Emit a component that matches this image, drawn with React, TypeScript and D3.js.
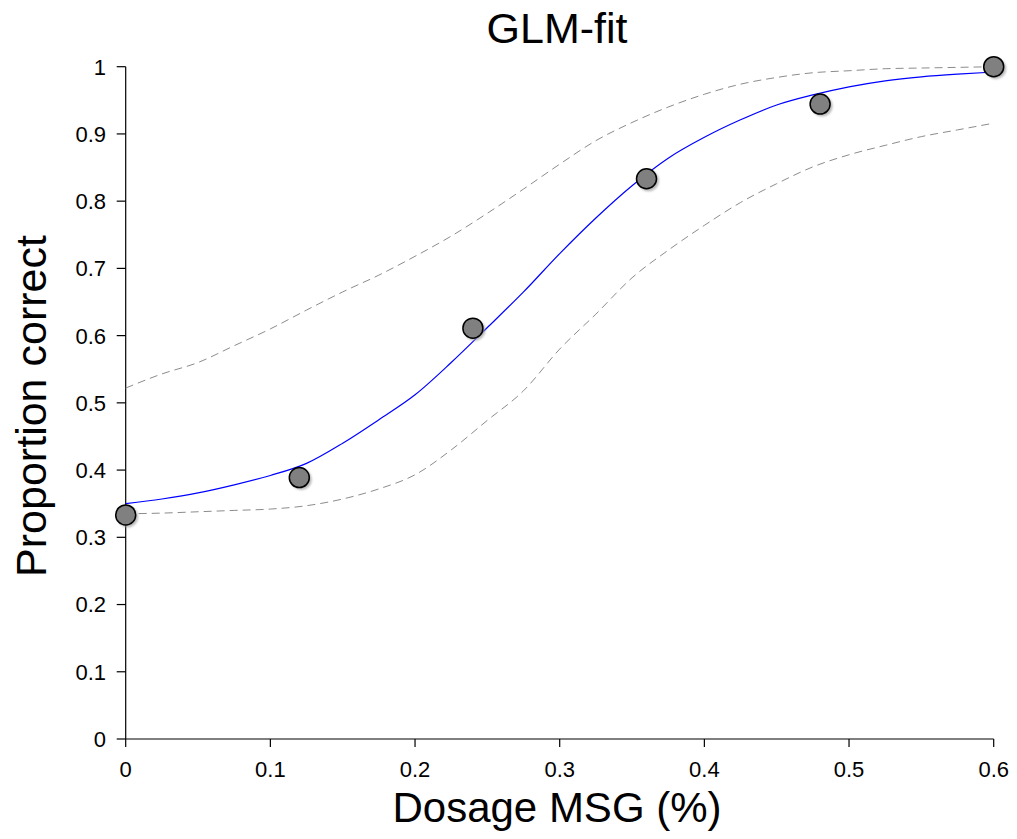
import React from "react";
import * as d3 from "d3";

const doseX = [0, 0.025, 0.05, 0.075, 0.1, 0.125, 0.15, 0.175, 0.2, 0.225, 0.25, 0.275, 0.3, 0.325, 0.35, 0.375, 0.4, 0.425, 0.45, 0.475, 0.5, 0.525, 0.55, 0.575, 0.6];
const fitY = [0.350, 0.357, 0.366, 0.378, 0.392, 0.410, 0.440, 0.475, 0.512, 0.560, 0.612, 0.665, 0.722, 0.775, 0.823, 0.864, 0.895, 0.921, 0.943, 0.958, 0.970, 0.979, 0.985, 0.989, 0.992];
const upperY = [0.522, 0.543, 0.560, 0.585, 0.610, 0.638, 0.665, 0.690, 0.718, 0.748, 0.782, 0.818, 0.855, 0.890, 0.917, 0.940, 0.959, 0.974, 0.984, 0.991, 0.994, 0.997, 0.998, 0.999, 1.0];
const lowerY = [0.335, 0.336, 0.338, 0.340, 0.342, 0.347, 0.357, 0.372, 0.393, 0.430, 0.474, 0.518, 0.580, 0.632, 0.686, 0.727, 0.764, 0.798, 0.826, 0.851, 0.869, 0.883, 0.896, 0.906, 0.916];

const obsX = [0, 0.12, 0.24, 0.36, 0.48, 0.6];
const obsY = [0.3333, 0.3889, 0.6111, 0.8333, 0.9444, 1.0];

const xTicks = [0, 0.1, 0.2, 0.3, 0.4, 0.5, 0.6];
const xTickLabels = ["0", "0.1", "0.2", "0.3", "0.4", "0.5", "0.6"];
const yTicks = [0, 0.1, 0.2, 0.3, 0.4, 0.5, 0.6, 0.7, 0.8, 0.9, 1];
const yTickLabels = ["0", "0.1", "0.2", "0.3", "0.4", "0.5", "0.6", "0.7", "0.8", "0.9", "1"];

const title = "GLM-fit";
const xTitle = "Dosage MSG (%)";
const yTitle = "Proportion correct";

export default function App() {
  const W = 1017, H = 839;
  const x = d3.scaleLinear().domain([0, 0.6]).range([125.7, 993.7]);
  const y = d3.scaleLinear().domain([0, 1]).range([739, 66.7]);
  const font = "Arial, 'Liberation Sans', sans-serif";

  const mk = (ys: number[]) =>
    d3.line<number>()
      .x((_, i) => x(doseX[i]))
      .y((d) => y(d))
      .curve(d3.curveMonotoneX)(ys) || "";

  return (
    <svg width={W} height={H} style={{ position: "absolute", left: 0, top: 0, background: "#fff" }}>
      <defs>
        <filter id="blur" x="-50%" y="-50%" width="200%" height="200%">
          <feGaussianBlur stdDeviation="0.8" />
        </filter>
      </defs>
      <text x={557} y={42.5} textAnchor="middle" fontFamily={font} fontSize={43}>{title}</text>

      {/* axes */}
      <line x1={x(0)} x2={x(0)} y1={y(0)} y2={y(1)} stroke="#000" strokeWidth={1.2} />
      <line x1={x(0)} x2={x(0.6)} y1={y(0)} y2={y(0)} stroke="#000" strokeWidth={1.2} />
      {yTicks.map((t, i) => (
        <g key={"y" + i}>
          <line x1={x(0) - 9} x2={x(0)} y1={y(t)} y2={y(t)} stroke="#000" strokeWidth={1.2} />
          <text x={106} y={y(t)} dy="0.36em" textAnchor="end" fontFamily={font} fontSize={22}>{yTickLabels[i]}</text>
        </g>
      ))}
      {xTicks.map((t, i) => (
        <g key={"x" + i}>
          <line x1={x(t)} x2={x(t)} y1={y(0)} y2={y(0) + 8} stroke="#000" strokeWidth={1.2} />
          <text x={x(t)} y={777} textAnchor="middle" fontFamily={font} fontSize={22}>{xTickLabels[i]}</text>
        </g>
      ))}

      <text x={557} y={822} textAnchor="middle" fontFamily={font} fontSize={42}>{xTitle}</text>
      <text transform={`translate(46,406) rotate(-90)`} textAnchor="middle" fontFamily={font} fontSize={43}>{yTitle}</text>

      {/* curves */}
      <path d={mk(upperY)} fill="none" stroke="#8c8c8c" strokeWidth={1} strokeDasharray="8,5" />
      <path d={mk(lowerY)} fill="none" stroke="#8c8c8c" strokeWidth={1} strokeDasharray="8,5" />
      <path d={mk(fitY)} fill="none" stroke="#0000ff" strokeWidth={1.2} />

      {/* points */}
      {obsX.map((v, i) => (
        <g key={"p" + i}>
          <circle cx={x(v) + 2} cy={y(obsY[i]) + 2} r={10.5} fill="#9a9a9a" opacity={0.7} filter="url(#blur)" />
          <circle cx={x(v)} cy={y(obsY[i])} r={10} fill="#808080" stroke="#000" strokeWidth={1.5} />
        </g>
      ))}
    </svg>
  );
}
